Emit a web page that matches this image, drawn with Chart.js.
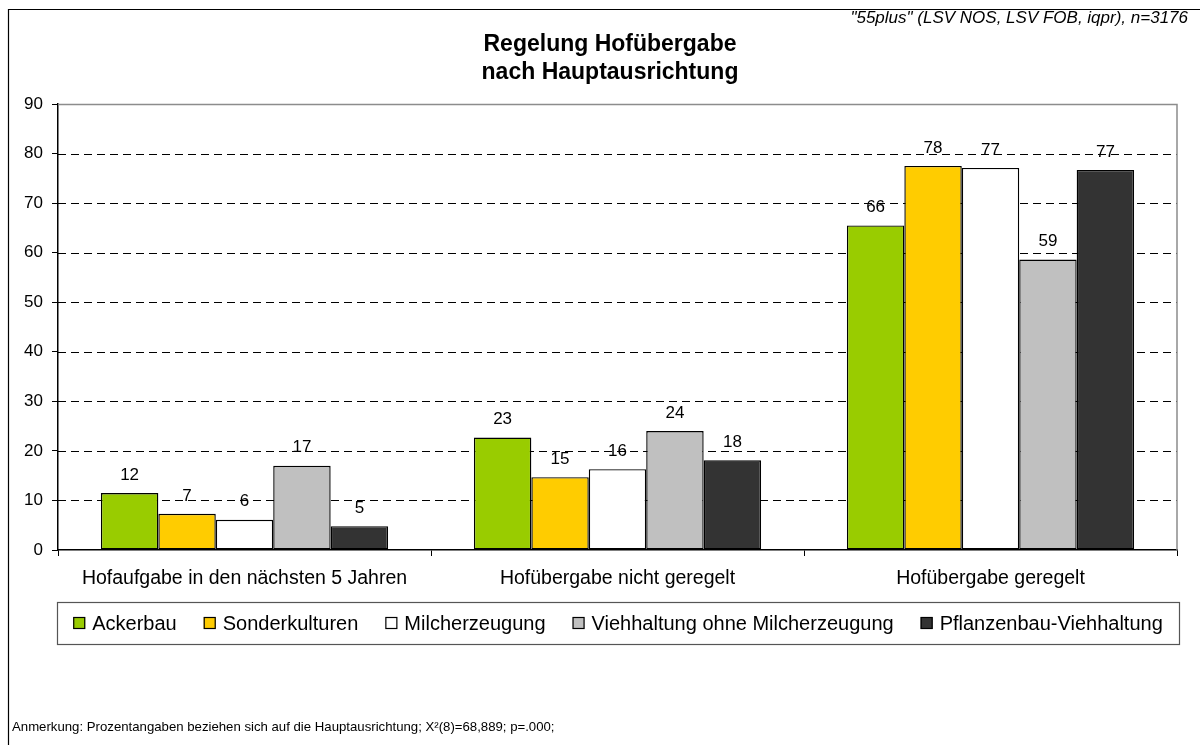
<!DOCTYPE html>
<html>
<head>
<meta charset="utf-8">
<script src="https://cdn.jsdelivr.net/npm/chart.js@4.4.1/dist/chart.umd.min.js"></script>
<style>
html,body{margin:0;padding:0;background:#fff;}
#wrap{width:1200px;height:745px;position:relative;}
</style>
</head>
<body>
<div id="wrap"><canvas id="c" width="1200" height="745"></canvas></div>
<script>
const categories = ["Hofaufgabe in den nächsten 5 Jahren", "Hofübergabe nicht geregelt", "Hofübergabe geregelt"];
const seriesNames = ["Ackerbau", "Sonderkulturen", "Milcherzeugung", "Viehhaltung ohne Milcherzeugung", "Pflanzenbau-Viehhaltung"];
const ackerbau = [11.5, 22.7, 65.5];
const sonderkulturen = [7.3, 14.7, 77.5];
const milcherzeugung = [6.1, 16.3, 77.1];
const viehhaltung = [17.0, 24.0, 58.6];
const pflanzenbauVieh = [4.8, 18.1, 76.7];
const valueLabels = [[12, 23, 66], [7, 15, 78], [6, 16, 77], [17, 24, 59], [5, 18, 77]];
const yTicks = [0, 10, 20, 30, 40, 50, 60, 70, 80, 90];
const titleLines = ["Regelung Hofübergabe", "nach Hauptausrichtung"];
const sourceNote = "\"55plus\" (LSV NOS, LSV FOB, iqpr), n=3176";
const footNote = "Anmerkung: Prozentangaben beziehen sich auf die Hauptausrichtung; X²(8)=68,889; p=.000;";

const colors = ["#99CC00", "#FFCC00", "#FFFFFF", "#C0C0C0", "#333333"];
const seriesValues = [ackerbau, sonderkulturen, milcherzeugung, viehhaltung, pflanzenbauVieh];
const FONT = "'Liberation Sans', Arial, Helvetica, sans-serif";

const datasets = seriesNames.map((n, i) => ({
  label: n,
  data: seriesValues[i],
  backgroundColor: colors[i],
  borderColor: "#000000",
  borderWidth: 1.4,
  borderSkipped: false,
  barPercentage: 1.0,
  categoryPercentage: 0.77
}));

const decor = {
  id: 'decor',
  beforeDraw(chart) {
    const ctx = chart.ctx;
    ctx.save();
    ctx.fillStyle = '#fff';
    ctx.fillRect(0, 0, chart.width, chart.height);
    ctx.restore();
  },
  beforeDatasetsDraw(chart) {
    const ctx = chart.ctx, a = chart.chartArea, y = chart.scales.y;
    ctx.save();
    ctx.strokeStyle = '#000';
    ctx.lineWidth = 1;
    ctx.setLineDash([8, 5]);
    yTicks.forEach(v => {
      if (v === 0 || v === 90) return;
      const py = Math.round(y.getPixelForValue(v)) + 0.5;
      ctx.beginPath(); ctx.moveTo(a.left, py); ctx.lineTo(a.right, py); ctx.stroke();
    });
    ctx.setLineDash([]);
    ctx.strokeStyle = '#8c8c8c';
    ctx.lineWidth = 1.5;
    const top = Math.round(y.getPixelForValue(90)) + 0.5;
    ctx.beginPath(); ctx.moveTo(a.left, top); ctx.lineTo(a.right, top); ctx.lineTo(a.right, a.bottom); ctx.stroke();
    ctx.restore();
  },
  afterDatasetsDraw(chart) {
    const ctx = chart.ctx;
    ctx.save();
    ctx.font = "17px " + FONT;
    ctx.fillStyle = '#000';
    ctx.textAlign = 'center';
    ctx.textBaseline = 'middle';
    chart.data.datasets.forEach((ds, i) => {
      const meta = chart.getDatasetMeta(i);
      meta.data.forEach((bar, j) => {
        ctx.fillText(String(valueLabels[i][j]), bar.x, bar.y - 18);
      });
    });
    ctx.restore();
  },
  afterDraw(chart) {
    const ctx = chart.ctx, a = chart.chartArea;
    ctx.save();
    // outer frame
    ctx.strokeStyle = '#000'; ctx.lineWidth = 1.2;
    ctx.beginPath(); ctx.moveTo(8.5, 745); ctx.lineTo(8.5, 9.5); ctx.lineTo(1200, 9.5); ctx.stroke();
    // title
    ctx.fillStyle = '#000';
    ctx.textAlign = 'center'; ctx.textBaseline = 'middle';
    ctx.font = "bold 23px " + FONT;
    ctx.fillText(titleLines[0], 610, 45);
    ctx.fillText(titleLines[1], 610, 73);
    // source
    ctx.font = "italic 17px " + FONT;
    ctx.textAlign = 'right';
    ctx.fillText(sourceNote, 1188, 18);
    // footnote
    ctx.font = "13.2px " + FONT;
    ctx.textAlign = 'left';
    ctx.fillText(footNote, 12, 727);
    // legend
    const lx0 = 57, lx1 = 1179, ly0 = 602, ly1 = 644;
    ctx.strokeStyle = '#555'; ctx.lineWidth = 1.2;
    ctx.strokeRect(lx0 + 0.5, ly0 + 0.5, lx1 - lx0, ly1 - ly0);
    ctx.font = "20px " + FONT;
    const sq = 12, gapT = 7, gapI = 27;
    const widths = chart.data.datasets.map(ds => sq + gapT + ctx.measureText(ds.label).width);
    const total = widths.reduce((s, w) => s + w, 0) + gapI * (widths.length - 1);
    let x = (lx0 + lx1) / 2 - total / 2;
    const cy = (ly0 + ly1) / 2;
    chart.data.datasets.forEach((ds, i) => {
      ctx.fillStyle = ds.backgroundColor;
      ctx.fillRect(x, cy - sq / 2, sq, sq);
      ctx.strokeStyle = '#000'; ctx.lineWidth = 1.2;
      ctx.strokeRect(x + 0.5, cy - sq / 2 + 0.5, sq - 1, sq - 1);
      ctx.fillStyle = '#000';
      ctx.textAlign = 'left'; ctx.textBaseline = 'middle';
      ctx.fillText(ds.label, x + sq + gapT, cy + 1);
      x += widths[i] + gapI;
    });
    ctx.restore();
  }
};

new Chart(document.getElementById('c'), {
  type: 'bar',
  data: { labels: categories, datasets },
  options: {
    responsive: false,
    animation: false,
    devicePixelRatio: 1,
    layout: { padding: { left: 8, right: 23, top: 104, bottom: 0 } },
    plugins: { legend: { display: false }, tooltip: { enabled: false }, title: { display: false } },
    scales: {
      x: {
        offset: true,
        grid: { display: true, offset: true, drawOnChartArea: false, drawTicks: true, tickLength: 6, color: '#000', lineWidth: 1 },
        border: { display: true, color: '#000', width: 1.5 },
        ticks: { font: { family: FONT, size: 19.5 }, color: '#000', padding: 11, maxRotation: 0 },
        afterFit: s => { s.height = 195; }
      },
      y: {
        min: 0, max: 90,
        afterBuildTicks: s => { s.ticks = yTicks.map(v => ({ value: v })); },
        grid: { drawOnChartArea: false, drawTicks: true, tickLength: 6, color: '#000', lineWidth: 1 },
        border: { display: true, color: '#000', width: 1.5 },
        ticks: { font: { family: FONT, size: 17 }, color: '#000', padding: 9 },
        afterFit: s => { s.width = 50; }
      }
    }
  },
  plugins: [decor]
});
</script>
</body>
</html>
